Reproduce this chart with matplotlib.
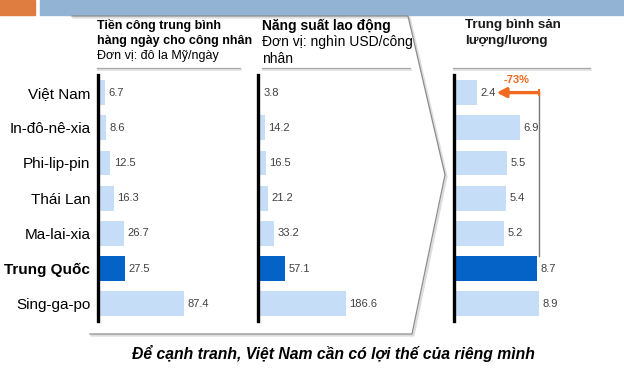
import numpy as np
import matplotlib.pyplot as plt
from matplotlib.patches import Rectangle
from matplotlib.lines import Line2D

plt.rcParams['font.family'] = ['Liberation Sans', 'DejaVu Sans']

countries = ['Việt Nam', 'In-đô-nê-xia', 'Phi-lip-pin', 'Thái Lan',
             'Ma-lai-xia', 'Trung Quốc', 'Sing-ga-po']
wages = [6.7, 8.6, 12.5, 16.3, 26.7, 27.5, 87.4]
productivity = [3.8, 14.2, 16.5, 21.2, 33.2, 57.1, 186.6]
output_ratio = [2.4, 6.9, 5.5, 5.4, 5.2, 8.7, 8.9]
highlight = 'Trung Quốc'
change_label = '-73%'

W, H = 624, 384
LIGHT = '#c6ddf7'
DARK = '#0563c8'
ORANGE = '#f26a22'


def fx(x):
    return x / W


def fy(y):
    return 1 - y / H


def panel(left, width, xmax, values, labels=None):
    ax = fig.add_axes([fx(left), fy(321.4), width / W, 246.4 / H])
    y = np.arange(len(values))
    colors = [DARK if c == highlight else LIGHT for c in countries]
    ax.barh(y, values, height=0.7, color=colors)
    ax.set_xlim(0, xmax)
    ax.set_ylim(len(values) - 0.5, -0.5)
    for s in ['top', 'right', 'bottom']:
        ax.spines[s].set_visible(False)
    ax.spines['left'].set_linewidth(2.4)
    ax.spines['left'].set_color('black')
    ax.set_xticks([])
    if labels is None:
        ax.set_yticks([])
    else:
        ax.set_yticks(y)
        ax.set_yticklabels(labels, fontsize=11)
        ax.tick_params(axis='y', length=0, pad=5.5)
        for t in ax.get_yticklabels():
            if t.get_text() == highlight:
                t.set_fontweight('bold')
    for i, v in enumerate(values):
        ax.annotate(f'{v}', (v, i), xytext=(2.5, 0), textcoords='offset points',
                    va='center', ha='left', fontsize=8, color='#404040')
    ax.patch.set_alpha(0)
    return ax


fig = plt.figure(figsize=(6.24, 3.84), dpi=100)

# top decoration
fig.patches.append(Rectangle((0, fy(15)), fx(35), 15 / H, transform=fig.transFigure,
                             color='#df7c3f', zorder=0))
fig.patches.append(Rectangle((fx(40), fy(15)), 1 - fx(40), 15 / H, transform=fig.transFigure,
                             color='#93b3d5', zorder=0))

# chevron outline with soft shadow
for dx, dy, col, lw in [(1.5, 1.5, '#dddddd', 1.6), (0, 0, '#8c8c8c', 0.9)]:
    fig.lines.append(Line2D([fx(72 + dx), fx(408 + dx), fx(445 + dx), fx(412 + dx), fx(90 + dx)],
                            [fy(16 + dy), fy(16 + dy), fy(175 + dy), fy(334 + dy), fy(334 + dy)],
                            transform=fig.transFigure, color=col, lw=lw))

# header separators
for x0, x1 in [(97, 240), (262, 410), (453, 590)]:
    fig.lines.append(Line2D([fx(x0 + 1), fx(x1 + 1)], [fy(69.5), fy(69.5)],
                            transform=fig.transFigure, color='#e0e0e0', lw=1.2))
    fig.lines.append(Line2D([fx(x0), fx(x1)], [fy(68), fy(68)],
                            transform=fig.transFigure, color='#a8a8a8', lw=0.9))

ax1 = panel(98, 142, 144, wages, countries)
ax2 = panel(258, 152, 323, productivity)
ax3 = panel(454, 136, 14.2, output_ratio)

# headers
fig.text(fx(97), fy(25), 'Tiền công trung bình', fontsize=9, fontweight='bold', va='center')
fig.text(fx(97), fy(41), 'hàng ngày cho công nhân', fontsize=9, fontweight='bold', va='center')
fig.text(fx(97), fy(56), 'Đơn vị: đô la Mỹ/ngày', fontsize=9, va='center')

fig.text(fx(262), fy(26), 'Năng suất lao động', fontsize=10, fontweight='bold', va='center')
fig.text(fx(262), fy(42), 'Đơn vị: nghìn USD/công', fontsize=10, va='center')
fig.text(fx(262), fy(59), 'nhân', fontsize=10, va='center')

fig.text(fx(465), fy(25), 'Trung bình sản', fontsize=9.6, fontweight='bold', va='center', color='#1a1a1a')
fig.text(fx(465), fy(41), 'lượng/lương', fontsize=9.6, fontweight='bold', va='center', color='#1a1a1a')

# comparison bracket: Việt Nam vs Trung Quốc
bx = 8.85
ax3.plot([bx, bx], [0, 5 - 0.35], color='#777777', lw=1)
ax3.plot([bx, bx], [-0.08, 0.08], color=ORANGE, lw=1.5)
ax3.annotate('', xy=(4.45, 0), xytext=(bx, 0),
             arrowprops=dict(arrowstyle='-|>,head_length=0.55,head_width=0.28',
                             color=ORANGE, lw=2.4, shrinkA=0, shrinkB=0))
ax3.text(6.55, -0.36, change_label, color=ORANGE, fontsize=8, fontweight='bold',
         ha='center', va='center')

fig.text(fx(333), fy(353), 'Để cạnh tranh, Việt Nam cần có lợi thế của riêng mình',
         fontsize=11.3, fontweight='bold', fontstyle='italic', ha='center', va='center')

fig.savefig('out.png', dpi=100)
